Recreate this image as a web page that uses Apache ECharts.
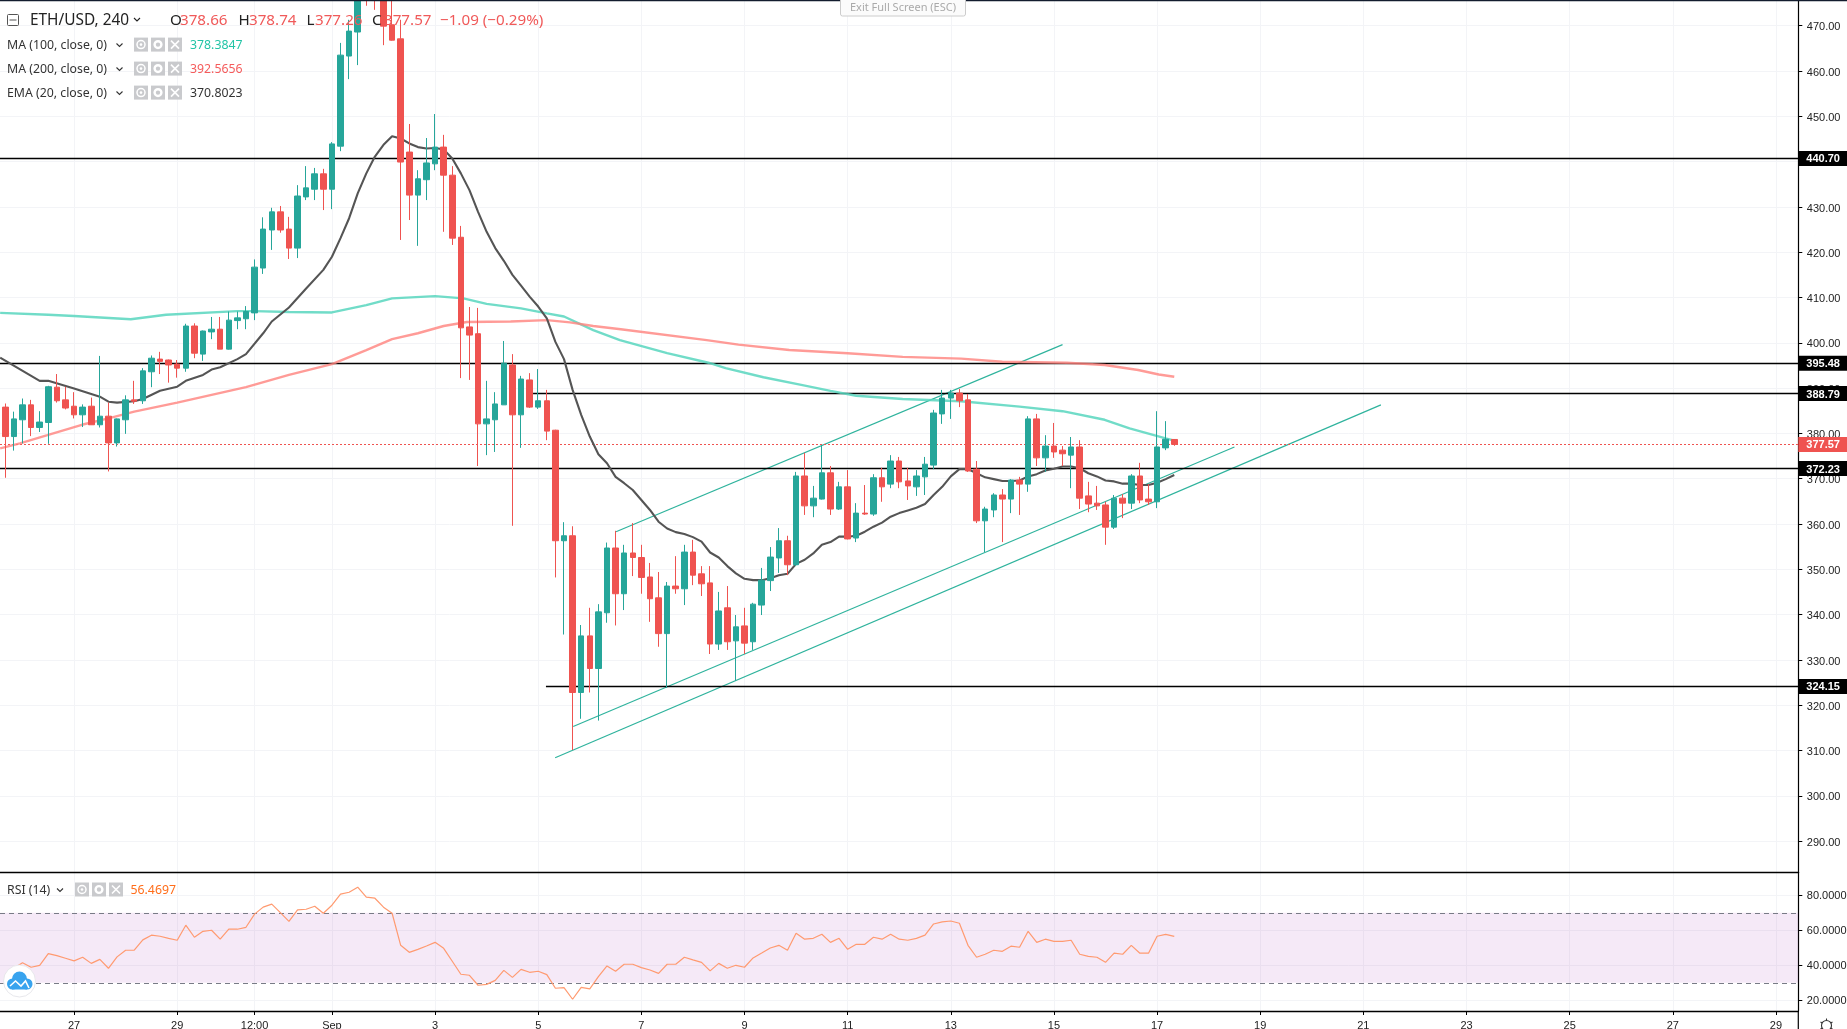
<!DOCTYPE html>
<html><head><meta charset="utf-8">
<style>html,body{margin:0;padding:0;background:#fff;overflow:hidden}#c{width:1847px;height:1029px}</style>
<script src="https://cdn.jsdelivr.net/npm/echarts@6/dist/echarts.min.js"></script>
</head><body><div id="c"></div>
<script>
// [open, close, low, high] per 4-hour bar
const ohlc = [
[385.8,379.3,370.2,386.6],[379.3,383.2,376.2,384.8],[383.0,386.3,377.8,387.7],[386.3,381.3,379.4,387.4],[381.3,382.5,380.3,384.9],
[382.4,390.3,377.7,390.5],[390.2,387.2,386.8,393.1],[387.4,385.6,385.3,390.3],[386.0,384.1,383.3,389.1],[384.1,385.8,381.4,386.4],
[386.0,381.9,381.9,387.9],[381.9,383.8,381.3,397.1],[383.8,377.9,371.6,386.8],[377.9,383.2,377.1,383.3],[383.0,387.4,379.9,388.4],
[387.4,387.1,386.5,391.6],[387.2,393.8,386.5,394.4],[393.6,396.6,390.2,397.2],[396.4,395.9,393.1,398.0],[396.2,395.1,391.2,396.3],
[395.3,394.4,392.3,396.2],[394.4,403.7,393.6,404.2],[403.7,397.7,396.6,404.3],[397.5,402.6,396.0,402.7],[402.4,403.0,400.8,405.7],
[403.0,398.6,398.6,405.7],[398.6,405.0,398.5,406.9],[404.9,405.5,403.0,406.9],[405.3,406.9,403.0,408.1],[406.6,416.7,405.0,418.4],
[416.5,425.1,415.2,427.7],[424.9,428.9,420.5,429.8],[428.9,424.9,424.3,430.2],[425.1,420.9,418.5,427.8],[420.9,432.4,418.7,434.8],
[432.2,434.2,431.5,439.0],[433.9,437.3,431.5,438.6],[437.3,433.9,429.3,438.4],[433.9,443.9,429.5,444.3],[443.4,463.5,442.3,466.2],
[463.3,468.8,458.2,471.3],[468.6,478.0,461.3,481.0],[482.0,478.0,474.4,484.0],[480.0,477.0,473.5,482.0],[479.0,469.9,465.7,482.0],
[470.2,466.8,466.7,477.0],[467.1,439.9,422.7,471.3],[442.1,432.6,427.1,448.3],[432.6,436.2,421.4,438.1],[436.0,439.7,431.5,445.2],
[439.5,443.2,438.1,450.5],[443.2,437.0,424.5,445.9],[437.0,423.1,421.6,439.0],[423.3,403.3,392.2,425.8],[403.5,401.7,391.8,407.9],
[402.0,382.1,372.8,407.7],[382.1,383.2,375.2,391.6],[383.0,386.5,375.9,389.1],[386.3,395.5,386.3,400.4],[395.1,384.1,359.6,397.5],
[384.1,392.0,376.8,392.7],[391.8,385.8,385.6,393.3],[385.8,387.2,385.4,394.2],[387.2,380.5,378.5,389.6],[380.7,356.3,348.2,380.8],
[356.3,357.4,335.6,360.4],[357.4,322.8,310.1,359.5],[322.8,335.3,317.0,337.7],[335.3,328.1,322.8,341.5],[328.1,340.6,316.6,342.3],
[340.4,354.7,338.2,355.9],[354.7,344.6,337.6,358.5],[344.6,353.6,341.0,355.4],[353.6,352.6,348.5,360.2],[352.6,348.2,344.6,355.4],
[348.3,343.5,338.4,351.4],[343.7,335.8,332.9,349.4],[335.8,346.3,323.8,347.2],[346.3,345.7,344.6,352.9],[345.7,353.8,342.1,355.4],
[353.8,348.7,346.5,356.5],[349.0,346.8,344.1,350.7],[347.0,333.5,331.3,350.7],[333.5,340.8,332.2,345.0],[341.5,334.0,332.2,346.3],
[334.2,337.3,325.4,339.9],[337.5,333.7,331.3,341.5],[334.0,342.3,332.2,342.6],[342.1,347.6,339.9,350.3],[347.5,352.7,345.2,354.9],
[352.5,356.3,349.2,359.1],[356.3,351.0,348.7,357.4],[351.0,370.6,350.7,371.5],[370.6,364.0,362.0,375.7],[364.0,365.7,361.5,368.4],
[365.5,371.3,365.4,377.4],[371.3,363.3,362.0,372.8],[363.3,368.2,363.1,369.3],[368.2,356.7,356.6,371.9],[356.9,362.4,356.0,364.6],
[362.4,362.2,362.0,368.6],[362.2,370.2,361.8,371.0],[370.2,368.2,364.9,372.4],[368.8,373.9,367.9,375.2],[373.9,369.3,367.9,374.8],
[369.5,368.4,365.3,372.4],[368.2,370.6,366.2,371.9],[370.4,373.2,366.4,374.8],[373.0,384.5,372.1,385.2],[384.3,387.8,382.1,389.6],
[387.8,388.9,383.2,389.6],[388.9,387.2,385.8,389.8],[387.4,371.7,371.5,388.7],[372.1,360.7,360.2,373.9],[360.7,363.3,353.8,363.8],
[363.1,366.4,361.5,366.8],[366.4,365.5,356.0,367.7],[365.5,369.7,362.4,369.9],[369.7,368.8,362.0,370.4],[368.8,383.2,367.1,383.8],
[383.2,374.6,372.8,384.3],[374.6,377.2,371.5,379.6],[377.2,375.9,374.6,382.3],[376.3,375.5,372.8,377.2],[375.2,377.0,367.9,379.2],
[377.0,365.7,363.3,378.5],[366.2,364.4,362.6,369.3],[364.6,364.0,363.1,368.4],[364.2,359.3,355.4,364.9],[359.3,365.7,358.9,366.4],
[365.7,364.6,361.3,366.6],[364.6,370.6,363.3,371.0],[370.6,365.3,364.6,373.5],[365.5,364.9,364.2,368.8],[364.9,377.0,363.5,384.9],
[376.8,378.7,376.3,382.7],[378.66,377.57,377.26,378.74]
];
// [bar number, value]
const ema20 = [[-0.6,396.7],[4,391.6],[5,391.6],[8,389.9],[11,388.1],[12,387.0],[13,386.8],[15,387.1],[16,387.6],[18,389.4],[20,390.3],[21,391.6],[23,392.9],[24,394.1],[25,394.6],[27,396.4],[28,397.5],[30,402.1],[31,404.7],[33,407.8],[35,412.0],[37,416.1],[38,419.0],[39,423.1],[40,427.5],[41,433.0],[42,437.4],[43,441.1],[44,443.7],[45,445.6],[46,445.1],[47,444.0],[48,443.2],[49,442.9],[50,443.0],[51,442.7],[52,440.7],[53,437.4],[54,433.7],[55,428.9],[56,424.5],[57,420.9],[58,418.1],[59,415.0],[60,412.6],[61,410.2],[62,408.0],[63,405.4],[64,400.2],[65,396.4],[66,389.6],[67,384.1],[68,379.3],[69,375.4],[70,373.4],[71,370.4],[72,369.0],[73,367.5],[74,365.3],[75,363.1],[76,360.5],[77,359.0],[78,358.2],[79,357.8],[80,357.1],[81,356.1],[82,353.7],[83,352.6],[84,350.7],[85,349.1],[86,347.9],[87,347.6],[88,347.6],[89,348.0],[90,348.7],[91,349.0],[92,351.2],[93,352.1],[94,353.5],[95,355.4],[96,356.0],[97,357.2],[98,357.2],[99,357.4],[100,358.3],[101,359.4],[102,360.3],[103,361.6],[104,362.4],[105,363.0],[106,363.6],[107,364.4],[108,366.4],[109,368.2],[110,370.5],[111,372.1],[112,372.1],[113,371.2],[114,370.3],[115,369.9],[116,369.5],[117,369.5],[118,369.6],[119,370.5],[120,371.0],[121,371.8],[122,372.2],[123,372.7],[124,372.7],[125,372.3],[126,371.2],[127,370.5],[128,369.6],[129,369.4],[130,368.9],[131,368.9],[132,368.6],[133,368.6],[134,369.1],[135,369.9],[136,370.8]];
const ma100 = [[-0.6,406.6],[5,406.2],[8,405.9],[14.6,405.2],[18.7,406.2],[27,407.0],[29,407.0],[33,406.8],[38,406.7],[42,408.3],[45,409.8],[50,410.3],[53.3,409.8],[56,408.6],[60,407.6],[63,406.5],[65,405.8],[68.4,402.8],[71.5,400.6],[77,397.7],[81.8,395.6],[83.8,394.4],[88.2,392.4],[92.6,390.7],[96,389.4],[99,388.3],[104.4,387.6],[111.2,387.1],[118,385.9],[123,384.9],[127.9,383.0],[130.8,381.1],[135,378.9],[136,378.4]];
const ma200 = [[-0.6,376.7],[1.7,377.8],[4.9,379.6],[8.9,381.9],[12,383.3],[15,384.8],[20,386.8],[24,388.5],[28,390.2],[33,392.9],[38,395.3],[42,398.4],[45,400.8],[48,402.1],[51,403.7],[53.7,404.6],[58.8,404.7],[63,405.0],[65.7,404.5],[68.4,403.7],[71.6,403.0],[81.6,400.6],[85.3,399.6],[91.2,398.4],[98,397.7],[104.4,396.9],[111.2,396.5],[116,395.8],[123.5,395.6],[127.9,395.1],[131.8,394.0],[134.2,393.0],[136,392.5]];
const rsi14 = [34.9,38.3,41.5,38.9,40.0,46.7,45.5,44.0,42.5,44.6,41.1,43.4,38.3,44.8,48.6,48.6,54.5,57.2,56.6,55.4,54.3,62.9,56.0,59.4,60.0,54.9,60.6,60.6,61.7,69.2,73.2,74.9,70.1,65.1,71.6,72.0,73.7,69.7,74.3,80.6,81.7,84.6,78.9,78.3,73.2,69.7,51.4,47.4,49.1,51.0,53.1,49.7,42.3,34.9,34.3,28.6,29.1,31.4,37.1,33.1,37.7,36.0,36.6,34.7,26.9,27.2,20.6,27.4,26.5,33.5,39.6,36.6,40.6,40.6,38.7,37.3,35.4,40.6,40.6,44.6,43.1,41.7,36.8,41.1,38.3,40.0,38.9,44.2,47.0,49.9,51.4,48.6,58.3,54.9,55.4,57.7,53.1,55.4,49.1,52.0,52.0,56.0,54.9,57.7,54.9,54.3,55.4,57.2,63.6,64.8,65.3,64.0,51.4,44.6,46.3,48.6,48.0,50.9,50.3,59.4,53.1,54.9,53.7,53.7,54.3,46.3,45.1,44.6,41.7,46.9,46.3,51.4,46.9,46.9,56.6,57.7,56.47];
const trendUpper = [[71.05,358.3],[123,399.6]];
const trendMiddle = [[66.07,315.3],[143,377.0]];
const trendLower = [[63.97,308.4],[160.04,386.3]];
const fullLevels = [440.70,395.48,372.23];
const level38879Start = 61.4, level32415Start = 62.9;
const lastPrice = 377.57;
const xTickBars = [8,20,29,38,50,62,74,86,98,110,122,134,146,158,170,182,194,206];
const xTickLabels = ['27','29','12:00','Sep','3','5','7','9','11','13','15','17','19','21','23','25','27','29'];
const yTicks = [290,300,310,320,330,340,350,360,370,380,390,400,410,420,430,440,450,460,470];
const rsiTicks = [20,40,60,80];

const X_MIN=-0.617, X_MAX=208.6;
const W=1847, AX=1798.3, PANE=872.3, BOT=1011;
const UP='#26a69a', DOWN='#ef5350', TEAL='#2fb39d', ARIAL='"Liberation Sans",Arial,sans-serif', UI='"Noto Sans",sans-serif';
const chart = echarts.init(document.getElementById('c'),null,{renderer:'canvas',width:1847,height:1029});

function lineSeries(name,data,color,width,z,idx=0){
  return {name,type:'line',xAxisIndex:idx,yAxisIndex:idx,data,showSymbol:false,symbol:'none',z,silent:true,animation:false,
    lineStyle:{color,width},itemStyle:{color}};
}
function levelLabel(v,bg){
  return {show:true,position:'end',distance:0,formatter:'{a|'+v.toFixed(2)+'}',backgroundColor:bg,padding:[2,8,2,8],
    rich:{a:{color:'#fff',fontFamily:ARIAL,fontSize:11,fontWeight:'bold',lineHeight:11,padding:[2,0,0,0]}}};
}
const markBlack = {color:'#000',width:1.3,type:'solid'};
const levelData = [
  ...fullLevels.map(v=>({yAxis:v,label:levelLabel(v,'#000'),lineStyle:markBlack})),
  [{coord:[level38879Start,388.79],label:levelLabel(388.79,'#000'),lineStyle:markBlack},{coord:[X_MAX,388.79]}],
  [{coord:[level32415Start,324.15],label:levelLabel(324.15,'#000'),lineStyle:markBlack},{coord:[X_MAX,324.15]}],
  {yAxis:lastPrice,label:levelLabel(lastPrice,DOWN),lineStyle:{color:DOWN,width:1,type:[2,2]}}
];

// ---- legend chrome
const g=[];
function txt(s,x,y,fill,font,align){g.push({type:'text',silent:true,z:50,style:{text:s,x,y,fill,font,textAlign:align||'left',textVerticalAlign:'middle'}});}
function chev(x,y,c){g.push({type:'polyline',silent:true,z:50,shape:{points:[[x-3,y-1.5],[x,y+1.5],[x+3,y-1.5]]},style:{stroke:c||'#222',fill:null,lineWidth:1.1}});}
function btn(x,y,kind){
  g.push({type:'rect',silent:true,z:50,shape:{x,y:y-7,width:14,height:14},style:{fill:'#c9cacd'}});
  const cx=x+7,cy=y;
  if(kind===0){g.push({type:'circle',silent:true,z:51,shape:{cx,cy,r:4},style:{fill:null,stroke:'#fff',lineWidth:1.5}});g.push({type:'circle',silent:true,z:51,shape:{cx,cy,r:1.3},style:{fill:'#fff'}});}
  if(kind===1){g.push({type:'circle',silent:true,z:51,shape:{cx,cy,r:3.4},style:{fill:null,stroke:'#fff',lineWidth:2.4}});}
  if(kind===2){g.push({type:'line',silent:true,z:51,shape:{x1:cx-4,y1:cy-4,x2:cx+4,y2:cy+4},style:{stroke:'#fff',lineWidth:1.6}});g.push({type:'line',silent:true,z:51,shape:{x1:cx+4,y1:cy-4,x2:cx-4,y2:cy+4},style:{stroke:'#fff',lineWidth:1.6}});}
}
g.push({type:'rect',silent:true,z:49,shape:{x:0,y:0,width:W,height:1.2},style:{fill:'#131c2e'}});
g.push({type:'line',silent:true,z:49,shape:{x1:AX,y1:BOT,x2:AX,y2:1029},style:{stroke:'#000',lineWidth:1.2}});
// header
g.push({type:'rect',silent:true,z:50,shape:{x:7.5,y:14.5,width:11,height:11,r:1},style:{fill:null,stroke:'#555',lineWidth:1}});
g.push({type:'line',silent:true,z:50,shape:{x1:9.5,y1:20,x2:16.5,y2:20},style:{stroke:'#555',lineWidth:1}});
const H='15.2px '+UI, RED='#f05a5a';
txt('ETH/USD, 240',30,20.5,'#222','15.4px '+UI); chev(137,19.5,'#222');
txt('O',170,20.5,'#222',H);txt('378.66',180,20.5,RED,H);
txt('H',238.5,20.5,'#222',H);txt('378.74',249,20.5,RED,H);
txt('L',306.5,20.5,'#222',H);txt('377.26',315,20.5,RED,H);
txt('C',372,20.5,'#222',H);txt('377.57',384,20.5,RED,H);
txt('\u22121.09 (\u22120.29%)',440,20.5,RED,H);
const S='12.3px '+UI;
[['MA (100, close, 0)','378.3847','#22c4a6',45.6],['MA (200, close, 0)','392.5656','#f55b5b',69.6],['EMA (20, close, 0)','370.8023','#333',93.6]].forEach(r=>{
  txt(r[0],7,r[3],'#333',S); chev(119.5,r[3]-0.6,'#333'); btn(134,r[3]-1,0);btn(151,r[3]-1,1);btn(168,r[3]-1,2);
  txt(r[1],190,r[3],r[2],S);
});
txt('RSI (14)',7,890.6,'#333',S); chev(60,890,'#333'); btn(75,889.5,0);btn(92,889.5,1);btn(109,889.5,2);
txt('56.4697',130.5,890.6,'#ff6d1a',S);
// exit chip
g.push({type:'rect',silent:true,z:50,shape:{x:840.5,y:-2,width:125,height:18,r:2},style:{fill:'#fbfbfb',stroke:'#ccc',lineWidth:1}});
txt('Exit Full Screen (ESC)',903,8,'#aaa','11px '+UI,'center');
// logo
g.push({type:'circle',silent:true,z:50,shape:{cx:19.5,cy:981,r:16},style:{fill:'#fff',stroke:'#e8e8ec',lineWidth:1}});
[[12.5,984,5.5],[19.5,979,7.5],[27,984,5.5]].forEach(c=>g.push({type:'circle',silent:true,z:51,shape:{cx:c[0],cy:c[1],r:c[2]},style:{fill:'#38a3ee'}}));
g.push({type:'rect',silent:true,z:51,shape:{x:12,y:983,width:15,height:6.5},style:{fill:'#38a3ee'}});
g.push({type:'polyline',silent:true,z:52,shape:{points:[[10,986],[15.5,981],[21,986],[25.5,981],[29,988]]},style:{stroke:'#fff',fill:null,lineWidth:1.6}});
// gear
g.push({type:'circle',silent:true,z:50,shape:{cx:1826.5,cy:1025.5,r:5},style:{fill:null,stroke:'#333',lineWidth:1.1}});
[[0,-7,0,-5],[6,-3.5,4.3,-2.5],[-6,-3.5,-4.3,-2.5],[6,3.5,4.3,2.5],[-6,3.5,-4.3,2.5]].forEach(s=>g.push({type:'line',silent:true,z:50,shape:{x1:1826.5+s[0],y1:1025.5+s[1],x2:1826.5+s[2],y2:1025.5+s[3]},style:{stroke:'#333',lineWidth:1.1}}));

const grid0Line={color:'#f3f4f7',width:1};
const tickRich = p => ({a:{color:'#222',fontFamily:ARIAL,fontSize:11,lineHeight:11,padding:[p,0,0,0]}});
chart.setOption({
  animation:false,backgroundColor:'#fff',
  grid:[{left:0,top:0,width:AX,height:PANE,outerBoundsMode:'none'},{left:0,top:PANE,width:AX,height:BOT-PANE,outerBoundsMode:'none'}],
  xAxis:[
    {type:'value',gridIndex:0,min:X_MIN,max:X_MAX,axisLine:{show:true,onZero:false,lineStyle:{color:'#000',width:1.3}},axisTick:{show:false,customValues:xTickBars},axisLabel:{show:false,customValues:xTickBars},splitLine:{show:true,lineStyle:grid0Line}},
    {type:'value',gridIndex:1,min:X_MIN,max:X_MAX,axisLine:{show:true,onZero:false,lineStyle:{color:'#000',width:1.3}},
      axisTick:{show:true,length:4,customValues:xTickBars,lineStyle:{color:'#000'}},
      axisLabel:{show:true,customValues:xTickBars,margin:9,color:'#222',fontFamily:ARIAL,fontSize:11,formatter:v=>xTickLabels[xTickBars.indexOf(v)]},
      splitLine:{show:true,lineStyle:grid0Line}}
  ],
  yAxis:[
    {type:'value',gridIndex:0,position:'right',min:283.11,max:475.67,axisLine:{show:true,onZero:false,lineStyle:{color:'#000',width:1.2}},
      axisTick:{show:true,length:4,customValues:yTicks,lineStyle:{color:'#000'}},
      axisLabel:{show:true,customValues:yTicks,margin:8.5,rich:tickRich(3.2),formatter:v=>'{a|'+v.toFixed(2)+'}'},
      splitLine:{show:true,lineStyle:grid0Line}},
    {type:'value',gridIndex:1,position:'right',min:13.9,max:93.1,axisLine:{show:true,onZero:false,lineStyle:{color:'#000',width:1.2}},
      axisTick:{show:true,length:4,customValues:rsiTicks,lineStyle:{color:'#000'}},
      axisLabel:{show:true,customValues:rsiTicks,margin:8.5,rich:tickRich(2),formatter:v=>'{a|'+v.toFixed(4)+'}'},
      splitLine:{show:true,lineStyle:grid0Line}}
  ],
  series:[
    Object.assign(lineSeries('levels',[],'#000',1,3),{markLine:{silent:true,symbol:'none',animation:false,precision:2,data:levelData}}),
    lineSeries('Trend upper',trendUpper,TEAL,1.2,4),
    lineSeries('Trend middle',trendMiddle,TEAL,1.2,4),
    lineSeries('Trend lower',trendLower,TEAL,1.2,4),
    lineSeries('MA 100',ma100,'rgba(88,214,190,0.85)',2.4,5),
    lineSeries('MA 200',ma200,'rgba(255,130,125,0.8)',2.4,5),
    lineSeries('EMA 20',ema20,'#555',2.1,5),
    {name:'ETH/USD',type:'candlestick',xAxisIndex:0,yAxisIndex:0,z:8,barWidth:6,silent:true,animation:false,
      encode:{x:0,y:[1,2,3,4]},
      data:ohlc.map((r,i)=>[i,r[0],r[1],r[2],r[3]]),
      itemStyle:{color:UP,color0:DOWN,borderColor:UP,borderColor0:DOWN,borderWidth:1}},
    Object.assign(lineSeries('RSI 14',rsi14.map((v,i)=>[i,v]),'#ff9a70',1.2,5,1),{
      markArea:{silent:true,animation:false,itemStyle:{color:'rgba(156,39,176,0.1)'},data:[[{yAxis:70},{yAxis:30}]]},
      markLine:{silent:true,animation:false,symbol:'none',label:{show:false},lineStyle:{color:'#787b86',type:[5,4],width:1},data:[{yAxis:70},{yAxis:30}]}
    })
  ],
  graphic:g
});
</script></body></html>
